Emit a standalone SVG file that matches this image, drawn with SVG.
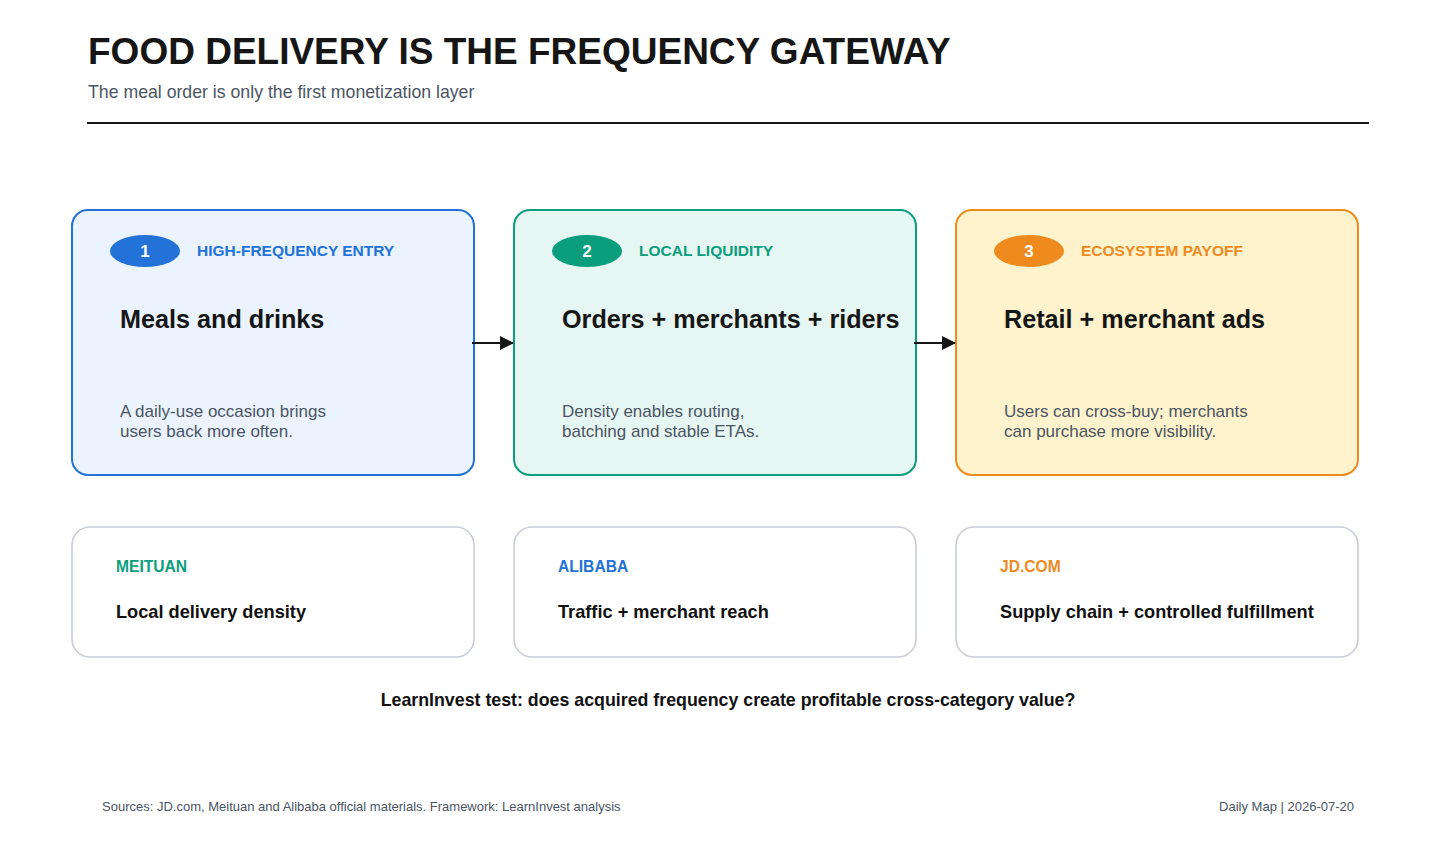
<svg xmlns="http://www.w3.org/2000/svg" width="1456" height="849" viewBox="0 0 1456 849">
<style>
text{font-family:"Liberation Sans",Arial,sans-serif}
.t{font-size:37px;font-weight:bold;fill:#161616}
.sub{font-size:17.7px;fill:#4b5563}
.tag{font-size:15.5px;font-weight:bold}
.num{font-size:17px;font-weight:bold;fill:#fff}
.h{font-size:25.2px;font-weight:bold;fill:#161616}
.b{font-size:17px;fill:#4b5563}
.card{fill:#fff;stroke:#c9cdd6;stroke-width:1.6}
.ct{font-size:15.6px;font-weight:bold}
.cb{font-size:18.2px;font-weight:bold;fill:#111}
.q{font-size:17.8px;font-weight:bold;fill:#111}
.foot{font-size:13px;fill:#4b5563}
.conn{stroke:#161616;stroke-width:2;fill:none}
</style>
<defs>
<marker id="ah2" markerWidth="14" markerHeight="14" refX="13" refY="7" orient="auto" markerUnits="userSpaceOnUse" viewBox="0 0 14 14">
<path d="M0,0 L14,7 L0,14 z" fill="#161616"/>
</marker>
</defs>
<rect width="1456" height="849" fill="#fff"/>
<g id="header">
<text class="t" x="88" y="64">FOOD DELIVERY IS THE FREQUENCY GATEWAY</text>
<text class="sub" x="88" y="98">The meal order is only the first monetization layer</text>
<line x1="87" y1="123" x2="1369" y2="123" stroke="#161616" stroke-width="2"/>
</g>
<g id="step1">
<rect x="72" y="210" width="402" height="265" rx="16" fill="#eaf3fe" stroke="#2272d8" stroke-width="2"/>
<ellipse cx="145" cy="251" rx="35" ry="16" fill="#2272d8"/>
<text class="num" x="145" y="257" text-anchor="middle">1</text>
<text class="tag" x="197" y="256" fill="#2272d8">HIGH-FREQUENCY ENTRY</text>
<text class="h" x="120" y="328">Meals and drinks</text>
<text class="b" x="120" y="417">A daily-use occasion brings</text>
<text class="b" x="120" y="437">users back more often.</text>
</g>
<g id="step2">
<rect x="514" y="210" width="402" height="265" rx="16" fill="#e6f6f2" stroke="#0a9e7c" stroke-width="2"/>
<ellipse cx="587" cy="251" rx="35" ry="16" fill="#0a9e7c"/>
<text class="num" x="587" y="257" text-anchor="middle">2</text>
<text class="tag" x="639" y="256" fill="#0a9e7c">LOCAL LIQUIDITY</text>
<text class="h" x="562" y="328">Orders + merchants + riders</text>
<text class="b" x="562" y="417">Density enables routing,</text>
<text class="b" x="562" y="437">batching and stable ETAs.</text>
</g>
<g id="step3">
<rect x="956" y="210" width="402" height="265" rx="16" fill="#fef3cc" stroke="#ef8a1f" stroke-width="2"/>
<ellipse cx="1029" cy="251" rx="35" ry="16" fill="#ef8a1f"/>
<text class="num" x="1029" y="257" text-anchor="middle">3</text>
<text class="tag" x="1081" y="256" fill="#ef8a1f">ECOSYSTEM PAYOFF</text>
<text class="h" x="1004" y="328">Retail + merchant ads</text>
<text class="b" x="1004" y="417">Users can cross-buy; merchants</text>
<text class="b" x="1004" y="437">can purchase more visibility.</text>
</g>
<g id="connectors">
<line class="conn" x1="472" y1="343" x2="513" y2="343" marker-end="url(#ah2)"/>
<line class="conn" x1="914" y1="343" x2="955" y2="343" marker-end="url(#ah2)"/>
</g>
<g id="meituan">
<rect class="card" x="72" y="527" width="402" height="130" rx="18"/>
<text class="ct" x="116" y="572" fill="#0a9e7c">MEITUAN</text>
<text class="cb" x="116" y="618">Local delivery density</text>
</g>
<g id="alibaba">
<rect class="card" x="514" y="527" width="402" height="130" rx="18"/>
<text class="ct" x="558" y="572" fill="#2272d8">ALIBABA</text>
<text class="cb" x="558" y="618">Traffic + merchant reach</text>
</g>
<g id="jd">
<rect class="card" x="956" y="527" width="402" height="130" rx="18"/>
<text class="ct" x="1000" y="572" fill="#ef8a1f">JD.COM</text>
<text class="cb" x="1000" y="618">Supply chain + controlled fulfillment</text>
</g>
<g id="test">
<text class="q" x="728" y="706" text-anchor="middle">LearnInvest test: does acquired frequency create profitable cross-category value?</text>
</g>
<g id="footer">
<text class="foot" x="102" y="811">Sources: JD.com, Meituan and Alibaba official materials. Framework: LearnInvest analysis</text>
<text class="foot" x="1354" y="811" text-anchor="end">Daily Map | 2026-07-20</text>
</g>
</svg>
